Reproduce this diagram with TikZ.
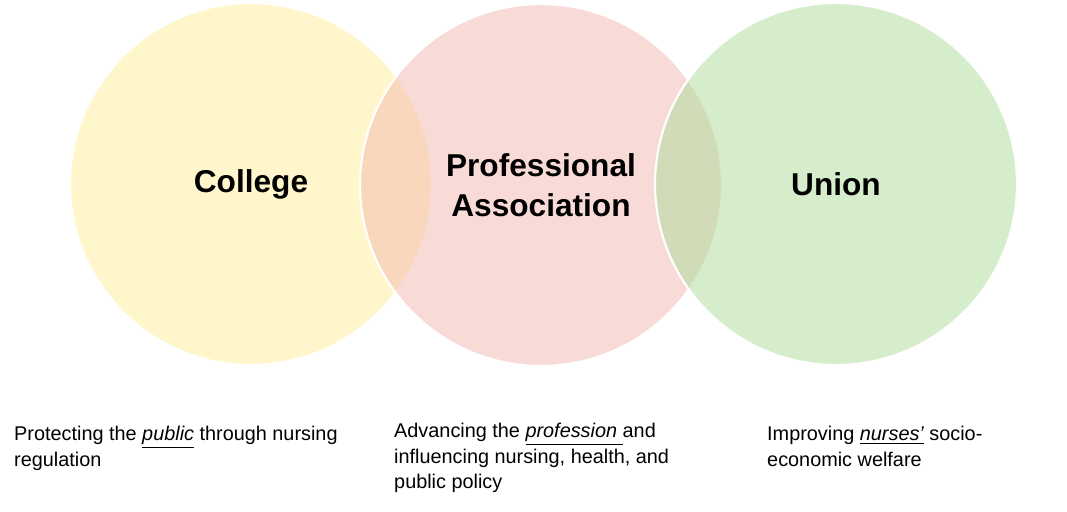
\documentclass[tikz,border=0pt]{standalone}
\usepackage{fontspec}
\setmainfont{Liberation Sans}
\definecolor{collegeyellow}{HTML}{FFEE99}
\definecolor{assocpink}{HTML}{F2B8B0}
\definecolor{uniongreen}{HTML}{ACDB98}
\begin{document}
\begin{tikzpicture}[x=0.02cm,y=-0.02cm,
    ring/.style={circle,draw=white,line width=1.2pt,fill opacity=0.5,minimum size=7.24cm},
    title/.style={font=\fontsize{18}{22.5}\selectfont\bfseries,align=center},
    note/.style={anchor=north west,align=left,font=\fontsize{11.3}{14.6}\selectfont}]
  \useasboundingbox (0,0) rectangle (1067,511);
  \node[ring,fill=collegeyellow] (college) at (251,184) {};
  \node[ring,fill=assocpink] (assoc) at (541,185) {};
  \node[ring,fill=uniongreen] (union) at (836,184) {};

  \node[title] (collegetitle) at (251,184) {College};
  \node[title] (assoctitle) at (541,185) {Professional\\Association};
  \node[title] (uniontitle) at (836,184) {Union};

  \node[note] (collegenote) at (8,420) {Protecting the \emph{\underline{public}} through nursing\\regulation};
  \node[note] (assocnote) at (388,417) {Advancing the \emph{\underline{profession }}and\\influencing nursing, health, and\\public policy};
  \node[note] (unionnote) at (761,420) {Improving \emph{\underline{nurses’}} socio-\\economic welfare};
\end{tikzpicture}
\end{document}
